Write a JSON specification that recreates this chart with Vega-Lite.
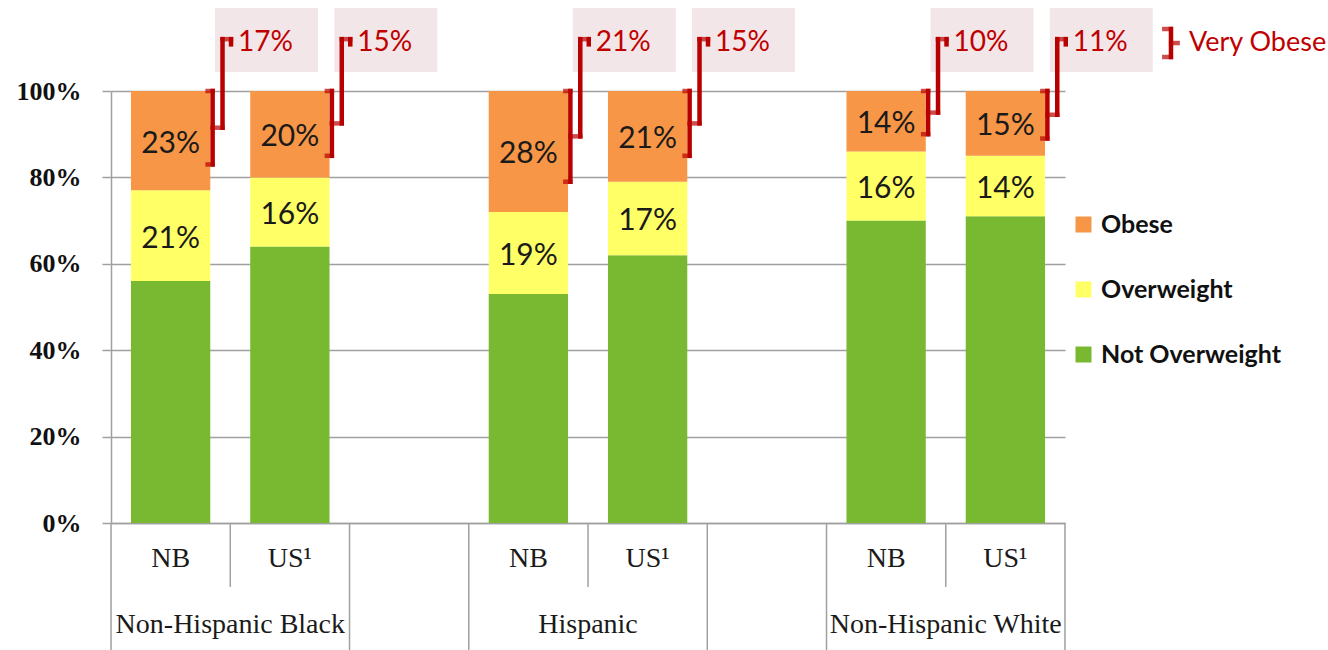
{
  "$schema": "https://vega.github.io/schema/vega-lite/v6.json",
  "width": 954,
  "height": 432,
  "autosize": "none",
  "padding": {"left": 111, "top": 91, "right": 263, "bottom": 127},
  "background": "white",
  "config": {"view": {"stroke": null}},
  "datasets": {
    "bars": [
      {"slot": "Black NB", "category": "Not Overweight", "value": 0.56, "order": 1},
      {"slot": "Black NB", "category": "Overweight", "value": 0.21, "order": 2},
      {"slot": "Black NB", "category": "Obese", "value": 0.23, "order": 3},
      {"slot": "Black US", "category": "Not Overweight", "value": 0.64, "order": 1},
      {"slot": "Black US", "category": "Overweight", "value": 0.16, "order": 2},
      {"slot": "Black US", "category": "Obese", "value": 0.20, "order": 3},
      {"slot": "Hisp NB", "category": "Not Overweight", "value": 0.53, "order": 1},
      {"slot": "Hisp NB", "category": "Overweight", "value": 0.19, "order": 2},
      {"slot": "Hisp NB", "category": "Obese", "value": 0.28, "order": 3},
      {"slot": "Hisp US", "category": "Not Overweight", "value": 0.62, "order": 1},
      {"slot": "Hisp US", "category": "Overweight", "value": 0.17, "order": 2},
      {"slot": "Hisp US", "category": "Obese", "value": 0.21, "order": 3},
      {"slot": "White NB", "category": "Not Overweight", "value": 0.70, "order": 1},
      {"slot": "White NB", "category": "Overweight", "value": 0.16, "order": 2},
      {"slot": "White NB", "category": "Obese", "value": 0.14, "order": 3},
      {"slot": "White US", "category": "Not Overweight", "value": 0.71, "order": 1},
      {"slot": "White US", "category": "Overweight", "value": 0.14, "order": 2},
      {"slot": "White US", "category": "Obese", "value": 0.15, "order": 3}
    ],
    "vo": [
      {"slot": "Black NB", "vo": 0.17, "top": 1},
      {"slot": "Black US", "vo": 0.15, "top": 1},
      {"slot": "Hisp NB", "vo": 0.21, "top": 1},
      {"slot": "Hisp US", "vo": 0.15, "top": 1},
      {"slot": "White NB", "vo": 0.10, "top": 1},
      {"slot": "White US", "vo": 0.11, "top": 1}
    ],
    "seps": [
      {"slot": "Black NB", "kind": "full"},
      {"slot": "Black US", "kind": "short"},
      {"slot": "gap1", "kind": "full"},
      {"slot": "Hisp NB", "kind": "full"},
      {"slot": "Hisp US", "kind": "short"},
      {"slot": "gap2", "kind": "full"},
      {"slot": "White NB", "kind": "full"},
      {"slot": "White US", "kind": "short"},
      {"slot": "White US", "kind": "end"}
    ],
    "groups": [
      {"slot": "Black US", "group": "Non-Hispanic Black"},
      {"slot": "Hisp US", "group": "Hispanic"},
      {"slot": "White US", "group": "Non-Hispanic White"}
    ],
    "key": [{"slot": "White US", "label": "Very Obese"}]
  },
  "encoding": {
    "x": {
      "field": "slot", "type": "nominal", "sort": null,
      "scale": {"domain": ["Black NB", "Black US", "gap1", "Hisp NB", "Hisp US", "gap2", "White NB", "White US"], "paddingInner": 0, "paddingOuter": 0},
      "axis": {
        "title": null, "ticks": false, "tickSize": 0, "grid": false,
        "domainColor": "#A0A0A0", "domainWidth": 1.5,
        "labelExpr": "indexof(datum.value,'NB')>=0 ? 'NB' : (indexof(datum.value,'US')>=0 ? 'US¹' : '')",
        "labelFont": "Liberation Serif", "labelFontSize": 28, "labelColor": "#1a1a1a",
        "labelAngle": 0, "labelBaseline": "middle", "labelPadding": 35
      }
    }
  },
  "layer": [
    {
      "data": {"name": "bars"},
      "mark": {"type": "bar", "width": {"band": 0.665}},
      "encoding": {
        "y": {
          "field": "value", "type": "quantitative", "stack": "zero", "title": null,
          "scale": {"domain": [0, 1], "nice": false},
          "axis": {
            "title": null, "values": [0, 0.2, 0.4, 0.6, 0.8, 1], "format": ".0%",
            "labelFont": "Liberation Serif", "labelFontWeight": "bold", "labelFontSize": 26, "labelColor": "#111111",
            "labelPadding": 21, "tickSize": 9, "tickColor": "#A0A0A0", "tickWidth": 1.5,
            "domainColor": "#A0A0A0", "domainWidth": 1.5, "gridColor": "#A0A0A0", "gridWidth": 1.5
          }
        },
        "color": {
          "field": "category", "type": "nominal",
          "scale": {"domain": ["Obese", "Overweight", "Not Overweight"], "range": ["#F79646", "#FFFF66", "#79B932"]},
          "legend": {
            "orient": "none", "legendX": 960, "legendY": 121, "title": null,
            "symbolType": "square", "symbolSize": 256, "symbolStrokeWidth": 0,
            "labelFont": "Lato", "labelFontWeight": "bold", "labelFontSize": 25, "labelColor": "#111111",
            "labelOffset": 5, "labelLimit": 400, "rowPadding": 39
          }
        },
        "order": {"field": "order", "type": "quantitative"}
      }
    },
    {
      "data": {"name": "bars"},
      "transform": [
        {"stack": "value", "groupby": ["slot"], "sort": [{"field": "order"}], "as": ["v0", "v1"]},
        {"filter": "datum.category !== 'Not Overweight'"},
        {"calculate": "(datum.v0 + datum.v1) / 2", "as": "mid"}
      ],
      "mark": {"type": "text", "font": "Lato", "fontSize": 30, "color": "#1a1a1a", "baseline": "middle", "yOffset": 3},
      "encoding": {
        "y": {"field": "mid", "type": "quantitative", "title": null},
        "text": {"field": "value", "type": "quantitative", "format": ".0%"}
      }
    },
    {
      "data": {"name": "seps"},
      "transform": [{"filter": "datum.kind === 'full'"}],
      "mark": {"type": "rule", "color": "#A0A0A0", "strokeWidth": 1.5, "xOffset": -59.6},
      "encoding": {
        "y": {"datum": 0},
        "y2": {"datum": -0.294}
      }
    },
    {
      "data": {"name": "seps"},
      "transform": [{"filter": "datum.kind === 'end'"}],
      "mark": {"type": "rule", "color": "#A0A0A0", "strokeWidth": 1.5, "xOffset": 59.6},
      "encoding": {
        "y": {"datum": 0},
        "y2": {"datum": -0.294}
      }
    },
    {
      "data": {"name": "seps"},
      "transform": [{"filter": "datum.kind === 'short'"}],
      "mark": {"type": "rule", "color": "#A0A0A0", "strokeWidth": 1.5, "xOffset": -59.6},
      "encoding": {
        "y": {"datum": 0},
        "y2": {"datum": -0.148}
      }
    },
    {
      "data": {"name": "groups"},
      "mark": {"type": "text", "font": "Liberation Serif", "fontSize": 28, "color": "#1a1a1a", "align": "center", "baseline": "middle", "xOffset": -59.6},
      "encoding": {
        "y": {"datum": -0.236},
        "text": {"field": "group", "type": "nominal"}
      }
    },
    {
      "data": {"name": "vo"},
      "transform": [
        {"calculate": "1 - datum.vo", "as": "vo_low"},
        {"calculate": "1 - datum.vo / 2", "as": "vo_mid"}
      ],
      "layer": [
        {
          "mark": {"type": "bar", "color": "#F3E6E8", "width": 103, "xOffset": 95.9},
          "encoding": {
            "y": {"datum": 1.192},
            "y2": {"datum": 1.044}
          }
        },
        {
          "mark": {"type": "rule", "color": "#B80000", "strokeWidth": 4.5, "strokeCap": "square", "xOffset": 42},
          "encoding": {
            "y": {"field": "top", "type": "quantitative", "title": null},
            "y2": {"field": "vo_low"}
          }
        },
        {
          "mark": {"type": "tick", "orient": "horizontal", "color": "#B80000", "size": 9.5, "thickness": 4.5, "xOffset": 39.5},
          "encoding": {
            "y": {"field": "top", "type": "quantitative", "title": null}
          }
        },
        {
          "mark": {"type": "tick", "orient": "horizontal", "color": "#B80000", "size": 9.5, "thickness": 4.5, "xOffset": 39.5},
          "encoding": {
            "y": {"field": "vo_low", "type": "quantitative", "title": null}
          }
        },
        {
          "mark": {"type": "tick", "orient": "horizontal", "color": "#B80000", "size": 14.5, "thickness": 4.5, "xOffset": 46.9},
          "encoding": {
            "y": {"field": "vo_mid", "type": "quantitative", "title": null}
          }
        },
        {
          "mark": {"type": "rule", "color": "#B80000", "strokeWidth": 4.5, "strokeCap": "square", "xOffset": 51.9},
          "encoding": {
            "y": {"field": "vo_mid", "type": "quantitative", "title": null},
            "y2": {"datum": 1.12}
          }
        },
        {
          "mark": {"type": "tick", "orient": "horizontal", "color": "#B80000", "size": 13, "thickness": 4.5, "xOffset": 56.1},
          "encoding": {
            "y": {"datum": 1.12}
          }
        },
        {
          "mark": {"type": "rule", "color": "#B80000", "strokeWidth": 4.5, "strokeCap": "square", "xOffset": 60.4},
          "encoding": {
            "y": {"datum": 1.12},
            "y2": {"datum": 1.108}
          }
        },
        {
          "mark": {"type": "text", "font": "Lato", "fontSize": 28, "color": "#C00000", "align": "left", "baseline": "middle", "xOffset": 67.4},
          "encoding": {
            "y": {"datum": 1.111},
            "text": {"field": "vo", "type": "quantitative", "format": ".0%"}
          }
        }
      ]
    },
    {
      "data": {"name": "key"},
      "layer": [
        {
          "mark": {"type": "rule", "color": "#B80000", "strokeWidth": 4.5, "strokeCap": "square", "xOffset": 165.6},
          "encoding": {
            "y": {"datum": 1.1435},
            "y2": {"datum": 1.0787}
          }
        },
        {
          "mark": {"type": "tick", "orient": "horizontal", "color": "#B80000", "size": 11, "thickness": 4.5, "xOffset": 162.2},
          "encoding": {
            "y": {"datum": 1.1435}
          }
        },
        {
          "mark": {"type": "tick", "orient": "horizontal", "color": "#B80000", "size": 11, "thickness": 4.5, "xOffset": 162.2},
          "encoding": {
            "y": {"datum": 1.0787}
          }
        },
        {
          "mark": {"type": "tick", "orient": "horizontal", "color": "#B80000", "size": 11, "thickness": 4.5, "xOffset": 169},
          "encoding": {
            "y": {"datum": 1.111}
          }
        },
        {
          "mark": {"type": "text", "font": "Lato", "fontSize": 27, "color": "#C00000", "align": "left", "baseline": "middle", "xOffset": 183.6},
          "encoding": {
            "y": {"datum": 1.111},
            "text": {"field": "label", "type": "nominal"}
          }
        }
      ]
    }
  ]
}
